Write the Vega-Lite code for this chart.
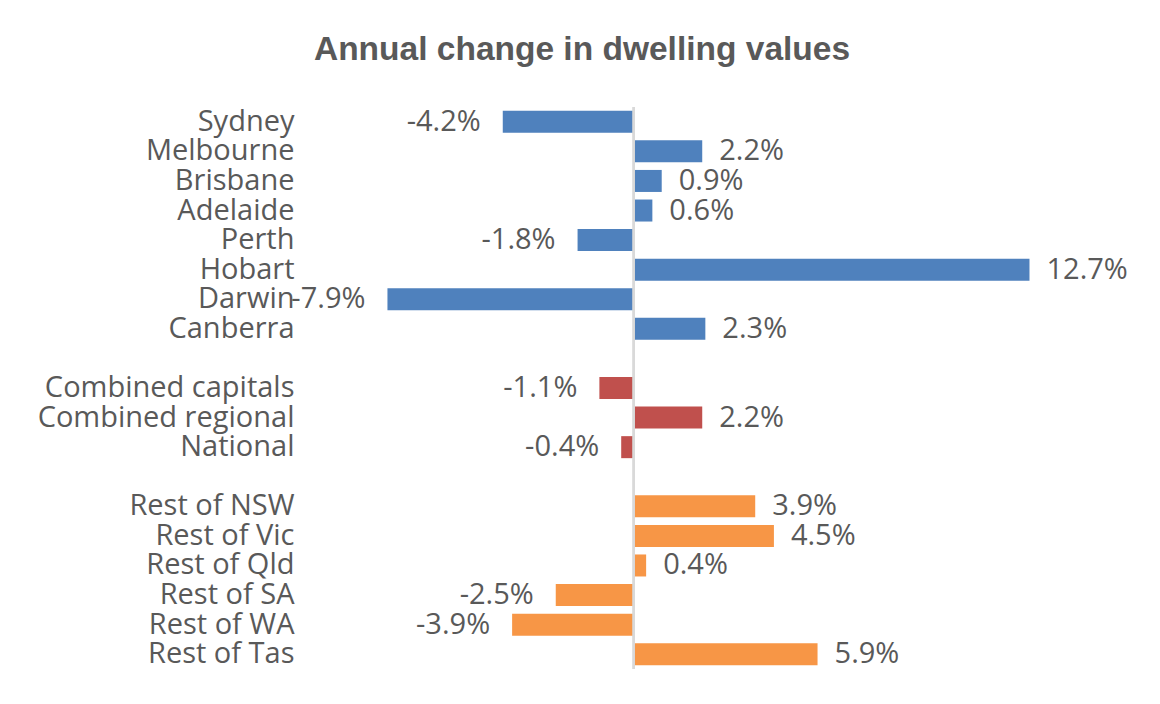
{
  "$schema": "https://vega.github.io/schema/vega-lite/v6.json",
  "autosize": "none",
  "padding": {"left": 322, "top": 107, "right": 90, "bottom": 35},
  "width": 748,
  "height": 562,
  "background": "white",
  "config": {"view": {"stroke": null}},
  "title": {
    "text": "Annual change in dwelling values",
    "font": "Liberation Sans",
    "fontSize": 33.5,
    "fontWeight": "bold",
    "color": "#595959",
    "frame": "group",
    "anchor": "middle",
    "baseline": "alphabetic",
    "dx": -114,
    "offset": 13
  },
  "data": {
    "values": [
      {"region": "Sydney", "change": -4.2, "group": "Capitals"},
      {"region": "Melbourne", "change": 2.2, "group": "Capitals"},
      {"region": "Brisbane", "change": 0.9, "group": "Capitals"},
      {"region": "Adelaide", "change": 0.6, "group": "Capitals"},
      {"region": "Perth", "change": -1.8, "group": "Capitals"},
      {"region": "Hobart", "change": 12.7, "group": "Capitals"},
      {"region": "Darwin", "change": -7.9, "group": "Capitals"},
      {"region": "Canberra", "change": 2.3, "group": "Capitals"},
      {"region": "Combined capitals", "change": -1.1, "group": "Aggregates"},
      {"region": "Combined regional", "change": 2.2, "group": "Aggregates"},
      {"region": "National", "change": -0.4, "group": "Aggregates"},
      {"region": "Rest of NSW", "change": 3.9, "group": "Regional"},
      {"region": "Rest of Vic", "change": 4.5, "group": "Regional"},
      {"region": "Rest of Qld", "change": 0.4, "group": "Regional"},
      {"region": "Rest of SA", "change": -2.5, "group": "Regional"},
      {"region": "Rest of WA", "change": -3.9, "group": "Regional"},
      {"region": "Rest of Tas", "change": 5.9, "group": "Regional"}
    ]
  },
  "encoding": {
    "y": {
      "field": "region",
      "type": "nominal",
      "scale": {
        "domain": ["Sydney", "Melbourne", "Brisbane", "Adelaide", "Perth", "Hobart", "Darwin", "Canberra", " ",
                   "Combined capitals", "Combined regional", "National", "  ",
                   "Rest of NSW", "Rest of Vic", "Rest of Qld", "Rest of SA", "Rest of WA", "Rest of Tas"],
        "paddingInner": 0.256,
        "paddingOuter": 0.128
      },
      "axis": {
        "title": null,
        "domain": false,
        "ticks": false,
        "labelPadding": 28,
        "labelLimit": 400,
        "labelFont": "Open Sans",
        "labelFontSize": 29,
        "labelColor": "#595959"
      }
    },
    "x": {
      "field": "change",
      "type": "quantitative",
      "scale": {"domain": [-10, 14], "nice": false, "zero": false},
      "axis": null
    }
  },
  "layer": [
    {
      "mark": {"type": "bar"},
      "encoding": {
        "color": {
          "field": "group",
          "type": "nominal",
          "scale": {"domain": ["Capitals", "Aggregates", "Regional"], "range": ["#4F81BD", "#C0504D", "#F79646"]},
          "legend": null
        }
      }
    },
    {
      "transform": [{"filter": "datum.change >= 0"}],
      "mark": {"type": "text", "align": "left", "baseline": "middle", "dx": 17, "font": "Open Sans", "fontSize": 29, "color": "#595959", "text": {"expr": "datum.change + '%'"}}
    },
    {
      "transform": [{"filter": "datum.change < 0"}],
      "mark": {"type": "text", "align": "right", "baseline": "middle", "dx": -22, "font": "Open Sans", "fontSize": 29, "color": "#595959", "text": {"expr": "datum.change + '%'"}}
    },
    {
      "mark": {"type": "rule", "color": "#D9D9D9", "strokeWidth": 1.5},
      "encoding": {"x": {"datum": 0}, "y": null}
    }
  ]
}
